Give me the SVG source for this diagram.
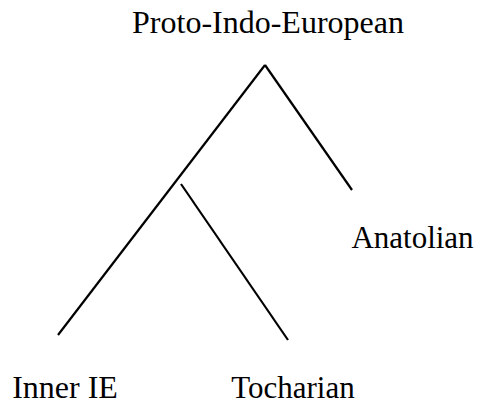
<svg xmlns="http://www.w3.org/2000/svg" width="481" height="408" viewBox="0 0 481 408">
<style>
text{font-family:"Liberation Serif","Times New Roman",serif;font-size:31px;fill:#000;text-anchor:middle}
line{stroke:#000;stroke-width:2.2;fill:none}
</style>
<rect width="481" height="408" fill="#fff"/>
<g id="connectors">
<line x1="265" y1="65" x2="58" y2="335"/>
<line x1="265" y1="65" x2="352" y2="190"/>
<line x1="181" y1="184" x2="288" y2="340"/>
</g>
<g id="pie"><text x="268" y="32.5" style="font-size:32px">Proto-Indo-European</text></g>
<g id="anatolian"><text x="412.5" y="248">Anatolian</text></g>
<g id="inner-ie"><text x="65" y="398" style="font-size:32px">Inner IE</text></g>
<g id="tocharian"><text x="293" y="398">Tocharian</text></g>
</svg>
